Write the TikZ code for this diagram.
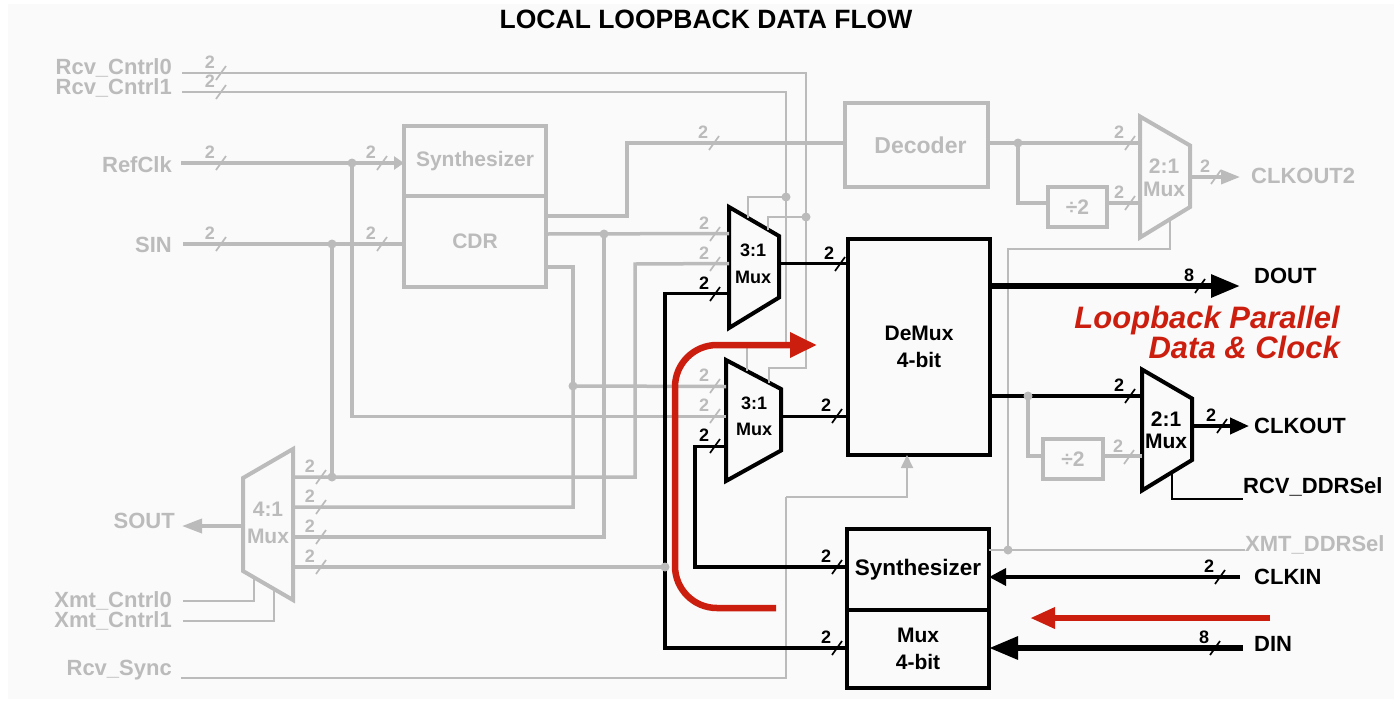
\documentclass[tikz,border=0pt]{standalone}
\usepackage{fontspec}
\setmainfont{Liberation Sans}
\definecolor{ghost-grey}{RGB}{187,187,187}
\definecolor{flow-red}{RGB}{204,30,14}
\definecolor{sheet-grey}{RGB}{250,250,250}
\usetikzlibrary{arrows.meta}
\usetikzlibrary{positioning}

\begin{document}
\begin{tikzpicture}[%
            x=1pt,y=-1pt,
            box/.style={%
              draw,
              line width=4pt,
              inner sep=0pt,
              outer sep=0pt,
              align=center,
              font=\fontsize{21}{27}\bfseries,
            },
            signal/.style={anchor=base west,inner sep=0pt,font=\fontsize{22}{26}\bfseries},
            inlabel/.style={anchor=base east,inner sep=0pt,font=\fontsize{22}{26}\bfseries},
            muxtext/.style={align=center,inner sep=0pt},
            ghost wire/.style={draw=ghost-grey,line width=3.5pt},
            ctrl wire/.style={draw=ghost-grey,line width=1.8pt},
            data wire/.style={draw=black,line width=3.5pt},
            flow/.style={draw=flow-red,line width=6.5pt},
            mux/.pic={%
              \draw [pic actions,line width=4pt] (-25,-60.5) -- (25,-31.5) -- (25,30) -- (-25,60.5) -- cycle;
              \coordinate (-in a) at (-25,-34);
              \coordinate (-in b) at (-25,-4);
              \coordinate (-in c) at (-25,26);
              \coordinate (-out) at (25,-4);
              \coordinate (-sel a) at (-6,-49.5);
              \coordinate (-sel b) at (14,-38);
              \coordinate (-sel c) at (5,43);
            },
            bus/.pic={%
              \node [pic actions,inner sep=0pt,font=\fontsize{18}{20}\bfseries] (-n) at (-11,-10.5) {#1};
              \draw [pic actions,line width=1.7pt] (-5,7) -- (5,-7);
            },
          ]
            \useasboundingbox (0,0) rectangle (1394,721);
            \fill [sheet-grey] (8,4) rectangle (1394,699);
            \node [font=\fontsize{26.5}{30}\bfseries] (title) at (706,19) {LOCAL LOOPBACK DATA FLOW};

            % boxes
            \node [box,ghost-grey,minimum width=142pt,minimum height=70pt] (synth) at (475,161) {Synthesizer};
            \node [box,ghost-grey,minimum width=142pt,minimum height=91pt,below=0pt of synth] (cdr) {CDR};
            \node [%
              box,
              ghost-grey,
              minimum width=143pt,
              minimum height=84pt,
              font=\fontsize{23}{27}\bfseries,
            ] (decoder) at (916.5,145) {\hspace*{8pt}Decoder};
            \node [box,ghost-grey,minimum width=59pt,minimum height=40pt] (half c) at (1077.5,207) {÷2};
            \node [box,ghost-grey,minimum width=60pt,minimum height=40pt] (half d) at (1073,459) {÷2};
            \node [box,minimum width=142pt,minimum height=216pt] (demux) at (919,346.5) {DeMux\\4-bit};
            \node [%
              box,
              minimum width=142pt,
              minimum height=81pt,
              font=\fontsize{22.5}{27}\bfseries,
            ] (rx synth) at (918,569.5) {Synthesizer};
            \node [box,minimum width=142pt,minimum height=78pt,below=0pt of rx synth] (tx mux) {Mux\\4-bit};

            % muxes
            \pic [ghost-grey] (mux c) at (1165,177) {mux};
            \pic [black] (mux a) at (754,267.5) {mux};
            \pic [black,xscale=1.1] (mux b) at (753.5,420.5) {mux};
            \pic [black] (mux d) at (1167,430) {mux};
            \draw [ghost-grey,line width=4pt] (243,478) -- (293,449) -- (293,600) -- (243,571) -- cycle;
            \node [muxtext,font=\fontsize{18}{27}\bfseries] (mux a text) at (753,264) {3:1\\Mux};
            \node [muxtext,font=\fontsize{18}{26}\bfseries] (mux b text) at (754,416) {3:1\\Mux};
            \node [muxtext,ghost-grey,font=\fontsize{21}{23}\bfseries] (mux c text) at (1164,178) {2:1\\Mux};
            \node [muxtext,font=\fontsize{21}{22}\bfseries] (mux d text) at (1166,430) {2:1\\Mux};
            \node [muxtext,ghost-grey,font=\fontsize{21}{27}\bfseries] (mux four) at (268,523) {4:1\\Mux};

            % labels
            \node [inlabel,ghost-grey] (rcv0) at (172,74) {Rcv\_Cntrl0};
            \node [inlabel,ghost-grey] (rcv1) at (172,94) {Rcv\_Cntrl1};
            \node [inlabel,ghost-grey] (refclk) at (172,172) {RefClk};
            \node [inlabel,ghost-grey] (sin) at (172,252) {SIN};
            \node [inlabel,ghost-grey] (sout) at (175,528) {SOUT};
            \node [inlabel,ghost-grey] (xmt0) at (172,607) {Xmt\_Cntrl0};
            \node [inlabel,ghost-grey] (xmt1) at (172,627) {Xmt\_Cntrl1};
            \node [inlabel,ghost-grey] (sync) at (172,675) {Rcv\_Sync};
            \node [signal,ghost-grey] (clkout2) at (1251,183) {CLKOUT2};
            \node [signal] (dout) at (1254,283) {DOUT};
            \node [signal] (clkout) at (1254,433) {CLKOUT};
            \node [signal] (rcvsel) at (1243,493) {RCV\_DDRSel};
            \node [signal,ghost-grey] (xmtsel) at (1245,551) {XMT\_DDRSel};
            \node [signal] (clkin) at (1254,584) {CLKIN};
            \node [signal] (din) at (1254,651) {DIN};
            \node [%
              flow-red,
              align=right,
              anchor=east,
              inner sep=0pt,
              font=\fontsize{31}{30}\bfseries\itshape,
            ] (caption) at (1340,332) {Loopback Parallel\\Data \& Clock};

            % free ends, rails and taps
            \coordinate (rcv0 end) at (182,73);
            \coordinate (rcv1 end) at (182,92);
            \coordinate (rclk end) at (181,163);
            \coordinate (sin end) at (183,244);
            \coordinate (sout tip) at (182,526);
            \coordinate (sout root) at (243,526);
            \coordinate (xmt0 end) at (183,601);
            \coordinate (xmt0 root) at (254,577);
            \coordinate (xmt1 end) at (183,621);
            \coordinate (xmt1 root) at (274,589);
            \coordinate (sync end) at (181,678);
            \coordinate (rclk tap) at (352,163);
            \coordinate (sin tap) at (332,244);
            \coordinate (cdr out a) at (546,216);
            \coordinate (cdr out b) at (546,234);
            \coordinate (cdr out c) at (546,267);
            \coordinate (dec rail) at (627,143);
            \coordinate (tap b) at (604,234);
            \coordinate (tap c) at (573,386);
            \coordinate (tap d) at (665,567);
            \coordinate (rail a) at (635,264);
            \coordinate (four a) at (293,477);
            \coordinate (four b) at (293,507);
            \coordinate (four c) at (293,537);
            \coordinate (four d) at (293,567);
            \coordinate (four tap) at (332,477);
            \coordinate (loop rail) at (665,648);
            \coordinate (syn rail) at (695,567);
            \coordinate (dec tap) at (1018,143);
            \coordinate (clk tap) at (1028,396);
            \coordinate (ctl a) at (786,197);
            \coordinate (ctl b) at (806,217);
            \coordinate (ctl c) at (786,345);
            \coordinate (ctl d) at (806,368);
            \coordinate (sync rail) at (786,497);
            \coordinate (sync tip) at (907,455);
            \coordinate (xsel end) at (1245,550);
            \coordinate (xsel tap) at (1008,550);
            \coordinate (xsel rail) at (1008,249);
            \coordinate (rsel end) at (1243,499);
            \coordinate (clkout2 tip) at (1240,177);
            \coordinate (dout tip) at (1240,286);
            \coordinate (clkout tip) at (1249,426);
            \coordinate (clkin end) at (1240,577);
            \coordinate (din end) at (1243,648);

            % thin control lines
            \draw [ctrl wire] (rcv0 end) -| (ctl d) -| (mux b-sel b);
            \draw [ctrl wire] (rcv1 end) -| (ctl c) -| (mux b-sel a);
            \draw [ctrl wire] (ctl a) -| (mux a-sel a);
            \draw [ctrl wire] (ctl b) -| (mux a-sel b);
            \draw [ctrl wire] (xmt0 end) -| (xmt0 root);
            \draw [ctrl wire] (xmt1 end) -| (xmt1 root);
            \draw [ctrl wire] (sync end) -| (sync rail);
            \draw [ctrl wire,-{Triangle[length=13pt,width=12pt]}] (sync rail) -| (sync tip);
            \draw [ctrl wire] (xsel end) -- (xsel end -| rx synth.east);
            \draw [ctrl wire] (xsel tap) -- (xsel rail) -| (mux c-sel c);

            % faded wires
            \draw [ghost wire,-{Triangle[length=10pt,width=13pt]}] (rclk end) -- (rclk end -| synth.west);
            \draw [ghost wire] (sin end) -- (sin end -| cdr.west);
            \draw [ghost wire] (rclk tap) |- (mux b-in b);
            \draw [ghost wire] (sin tap) -- (four tap);
            \draw [ghost wire] (four a) -| (rail a) -- (mux a-in b);
            \draw [ghost wire] (four b) -| (tap c) -- (mux b-in a);
            \draw [ghost wire] (cdr out c) -| (tap c);
            \draw [ghost wire] (four c) -| (tap b);
            \draw [ghost wire] (cdr out b) -- (mux a-in a);
            \draw [ghost wire] (four d) -- (tap d);
            \draw [ghost wire] (cdr out a) -| (dec rail) -- (dec rail -| decoder.west);
            \draw [ghost wire] (dec tap -| decoder.east) -- (mux c-in a);
            \draw [ghost wire] (dec tap) |- (half c.west |- mux c-in c);
            \draw [ghost wire] (half c.east |- mux c-in c) -- (mux c-in c);
            \draw [ghost wire] (clk tap) |- (half d.west |- mux d-in c);
            \draw [ghost wire] (half d.east |- mux d-in c) -- (mux d-in c);
            \draw [ghost wire,-{Triangle[length=19pt,width=14pt]}] (mux c-out |- clkout2 tip) -- (clkout2 tip);
            \draw [ghost wire,-{Triangle[length=20pt,width=14pt]}] (sout root) -- (sout tip);

            % live wires
            \draw [data wire] (mux a-out) -- (mux a-out -| demux.west);
            \draw [data wire] (mux b-out) -- (mux b-out -| demux.west);
            \draw [data wire] (mux a-in c) -| (loop rail) -- (loop rail -| tx mux.west);
            \draw [data wire] (mux b-in c) -| (syn rail) -- (syn rail -| rx synth.west);
            \draw [data wire] (mux d-in a -| demux.east) -- (mux d-in a);
            \draw [data wire,line width=4pt,-{Triangle[length=19pt,width=16pt]}] (mux d-out |- clkout tip) -- (clkout tip);
            \draw [draw=black,line width=1.8pt] (mux d-sel c) |- (rsel end);
            \draw [data wire,-{Triangle[length=17pt,width=17pt]}] (clkin end) -- (clkin end -| rx synth.east);
            \draw [data wire,line width=6pt,-{Triangle[length=29pt,width=22pt]}] (din end) -- (din end -| tx mux.east);
            \draw [data wire,line width=6pt,-{Triangle[length=29pt,width=22pt]}] (dout tip -| demux.east) -- (dout tip);

            \foreach \pos in {rclk tap,sin tap,tap b,tap c,tap d,dec tap,clk tap,ctl a,ctl b,xsel tap,four tap}
              \fill [ghost-grey] (\pos) circle (4.5);

            % bus marks
            \foreach \x/\y [count=\i] in {221/73,221/92,221/163,221/244,382/163,382/244,714/143,
                                          715/234,715/264,715/386,715/416,321/477,321/507,321/537,321/567,
                                          1130/143,1130/203,1216/177,1129/457}
              \pic [ghost-grey] (ghost \i) at (\x,\y) {bus=2};
            \foreach \x/\y [count=\i] in {715/294,840/264,715/446,837/416,837/567,837/648,1130/396,1222/426,1220/577}
              \pic [black] (live \i) at (\x,\y) {bus=2};
            \pic [black] (dout bus) at (1200,286) {bus=8};
            \pic [black] (din bus) at (1215,648) {bus=8};

            % loopback path
            \draw [flow,-{Triangle[length=27pt,width=24pt]}] (776,608) -- (717,608)
              to [out=180,in=270] (675,566) -- (675,387) to [out=90,in=180] (717,345) -- (817,345);
            \draw [flow,-{Triangle[length=25pt,width=20pt]}] (1270,618) -- (1030,618);
          \end{tikzpicture}
\end{document}
